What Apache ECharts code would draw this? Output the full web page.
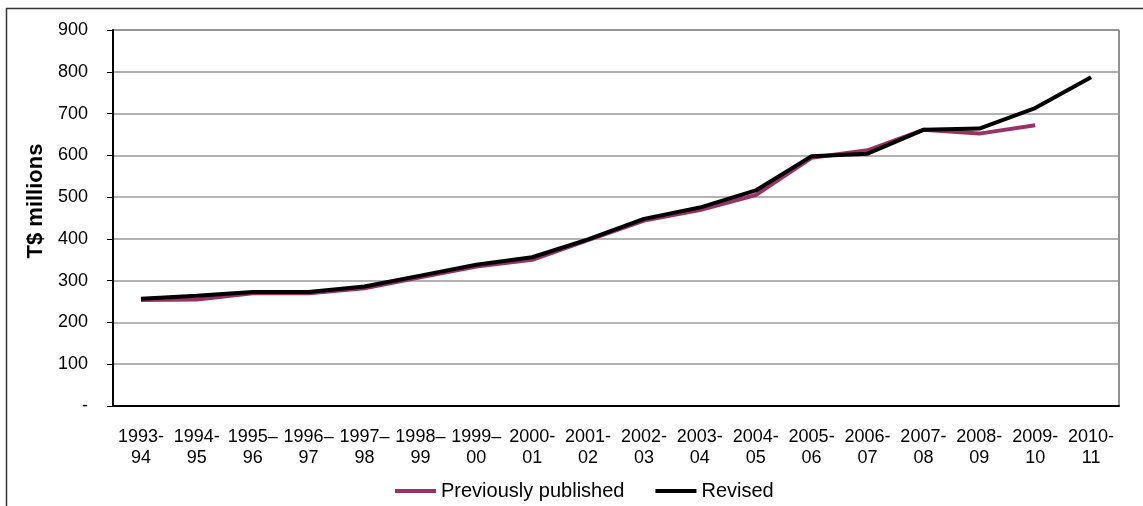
<!DOCTYPE html>
<html>
<head>
<meta charset="utf-8">
<script src="https://cdn.jsdelivr.net/npm/echarts@6/dist/echarts.min.js"></script>
<style>
  html, body { margin: 0; padding: 0; background: #fff; }
  #chart { width: 1143px; height: 506px; }
</style>
</head>
<body>
<div id="chart"></div>
<script>
// financial years
const years = [
  '1993-\n94', '1994-\n95', '1995–\n96', '1996–\n97', '1997–\n98', '1998–\n99',
  '1999–\n00', '2000-\n01', '2001-\n02', '2002-\n03', '2003-\n04', '2004-\n05',
  '2005-\n06', '2006-\n07', '2007-\n08', '2008-\n09', '2009-\n10', '2010-\n11'
];
// T$ millions
const previouslyPublished = [254, 255, 270, 270, 282, 308, 334, 350, 397, 444, 469, 505, 594, 612, 661, 652, 672, null];
const revised = [257, 264, 273, 273, 286, 312, 338, 356, 399, 448, 475, 516, 598, 604, 661, 664, 713, 787];

const font = "'Liberation Sans', Arial, sans-serif";

const chart = echarts.init(document.getElementById('chart'));
chart.setOption({
  animation: false,
  backgroundColor: '#fff',
  textStyle: { fontFamily: font },
  graphic: [
    {
      // outer chart border
      type: 'rect',
      shape: { x: 6.5, y: 8.5, width: 1145, height: 520 },
      style: { fill: 'none', stroke: '#333', lineWidth: 1.5 },
      silent: true
    },
    {
      type: 'text',
      x: 36,
      y: 201,
      rotation: Math.PI / 2,
      style: {
        text: 'T$ millions',
        font: 'bold 22px ' + font,
        fill: '#000',
        textAlign: 'center',
        textVerticalAlign: 'middle'
      }
    }
  ],
  grid: {
    left: 113, top: 30, right: 24, bottom: 100,
    show: true, borderColor: '#222', borderWidth: 1
  },
  legend: {
    left: 390, top: 476,
    icon: 'rect', itemWidth: 41, itemHeight: 4, itemGap: 31,
    textStyle: { fontSize: 20, color: '#000', fontFamily: font },
    data: ['Previously published', 'Revised']
  },
  xAxis: {
    type: 'category',
    data: years,
    boundaryGap: true,
    axisLine: { lineStyle: { color: '#000', width: 2 } },
    axisTick: { length: 6, lineStyle: { color: '#000', width: 1 } },
    axisLabel: {
      interval: 0, margin: 21, fontSize: 18, lineHeight: 21,
      color: '#000', fontFamily: font
    }
  },
  yAxis: {
    type: 'value',
    min: 0, max: 900, interval: 100,
    axisLine: { show: true, lineStyle: { color: '#000', width: 2 } },
    axisTick: { show: true, length: 6, lineStyle: { color: '#000', width: 1 } },
    axisLabel: {
      margin: 25, fontSize: 18, color: '#000', fontFamily: font,
      formatter: v => (v === 0 ? '-' : v)
    },
    splitLine: { lineStyle: { color: '#999', width: 1.5 } }
  },
  series: [
    {
      name: 'Previously published',
      type: 'line',
      data: previouslyPublished,
      symbol: 'none',
      color: '#993366',
      lineStyle: { width: 4, color: '#993366' }
    },
    {
      name: 'Revised',
      type: 'line',
      data: revised,
      symbol: 'none',
      color: '#000',
      lineStyle: { width: 4, color: '#000' }
    }
  ]
});
</script>
</body>
</html>
